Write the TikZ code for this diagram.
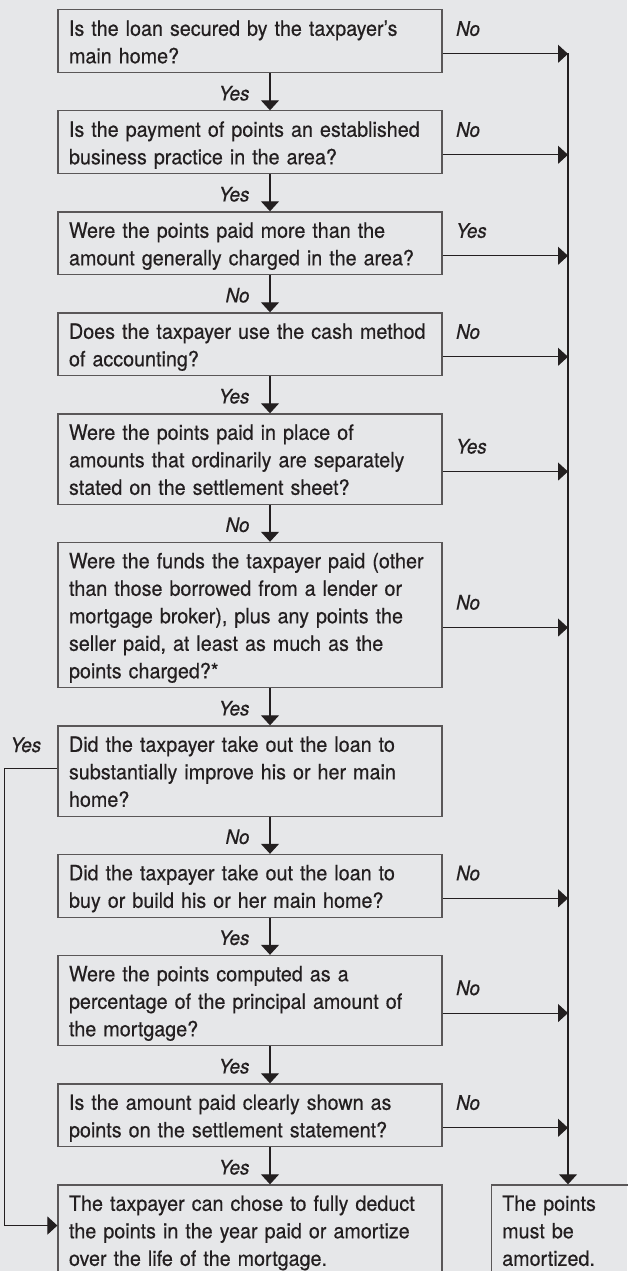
\documentclass[tikz,border=0pt]{standalone}
\usepackage{fontspec}
\setmainfont{TeX Gyre Heros}[FakeStretch=0.94,FakeBold=0.4]
\usepackage{tikz}
\usetikzlibrary{positioning,arrows.meta}
\definecolor{bggray}{RGB}{230,231,233}
\definecolor{ink}{RGB}{35,31,32}
\newcommand{\qstrut}{\rule[-5.5pt]{0pt}{27.5pt}}

\begin{document}
\begin{tikzpicture}[x=1pt,y=-1pt,
  qbox/.style={draw=ink!75,line width=1.2pt,minimum width=384pt,text width=362pt,
    inner xsep=11pt,inner ysep=3.9pt,align=left,text=ink,
    font=\fontsize{21}{27.5}\selectfont,
    execute at begin node=\qstrut,execute at end node=\qstrut},
  lbl/.style={font=\fontsize{20}{22}\selectfont\itshape,inner sep=0pt,text=ink},
  arr/.style={draw=ink,line width=1.1pt,-{Triangle[width=18pt,length=10pt]}}]
  \useasboundingbox (0,0) rectangle (627,1271);
  \fill[bggray] (0,0) rectangle (627,1271);
  % question column
  \node[qbox,anchor=north] (q1) at (250,9.3) {Is the loan secured by the taxpayer’s\\main home?};
  \node[qbox,below=37pt of q1] (q2) {Is the payment of points an established\\business practice in the area?};
  \node[qbox,below=37pt of q2] (q3) {Were the points paid more than the\\amount generally charged in the area?};
  \node[qbox,below=37pt of q3] (q4) {Does the taxpayer use the cash method\\of accounting?};
  \node[qbox,below=37pt of q4] (q5) {Were the points paid in place of\\amounts that ordinarily are separately\\stated on the settlement sheet?};
  \node[qbox,below=37pt of q5] (q6) {Were the funds the taxpayer paid (other\\than those borrowed from a lender or\\mortgage broker), plus any points the\\seller paid, at least as much as the\\points charged?*};
  \node[qbox,below=37pt of q6] (q7) {Did the taxpayer take out the loan to\\substantially improve his or her main\\home?};
  \node[qbox,below=37pt of q7] (q8) {Did the taxpayer take out the loan to\\buy or build his or her main home?};
  \node[qbox,below=37pt of q8] (q9) {Were the points computed as a\\percentage of the principal amount of\\the mortgage?};
  \node[qbox,below=37pt of q9] (q10) {Is the amount paid clearly shown as\\points on the settlement statement?};
  % outcomes
  \node[qbox,below=37pt of q10] (fin) {The taxpayer can chose to fully deduct\\the points in the year paid or amortize\\over the life of the mortgage.};
  \node[qbox,right=48pt of fin,minimum width=160pt,text width=138pt] (amort) {The points\\must be\\amortized.};
  % down the column
  \foreach \a/\b/\t in {q1/q2/Yes,q2/q3/Yes,q3/q4/No,q4/q5/Yes,q5/q6/No,q6/q7/Yes,q7/q8/No,q8/q9/Yes,q9/q10/Yes,q10/fin/Yes}
    \draw[arr] ([xshift=20pt]\a.south) -- ([xshift=20pt]\b.north)
      node[lbl,midway,anchor=east,xshift=-20pt,yshift=-1.5pt] {\t};
  % to the amortize rail
  \coordinate (rail) at (568,53.3);
  \foreach \q/\t in {q1/No,q2/No,q3/Yes,q4/No,q5/Yes,q6/No,q8/No,q9/No,q10/No}
    \draw[arr] ([yshift=-12.5pt]\q.east) -- ([yshift=-12.5pt]\q.east -| rail)
      node[lbl,pos=0,anchor=base west,xshift=13pt,yshift=18pt] {\t};
  \draw[arr] (rail) -- (rail |- amort.north);
  % improvement loan goes straight to the deduction
  \draw[arr] ([yshift=3pt]q7.west) -- ++(-53,0) |- ([yshift=4.5pt]fin.west);
  \node[lbl,anchor=base east] (yes7) at ([xshift=-16pt,yshift=19pt]q7.west) {Yes};
\end{tikzpicture}
\end{document}
